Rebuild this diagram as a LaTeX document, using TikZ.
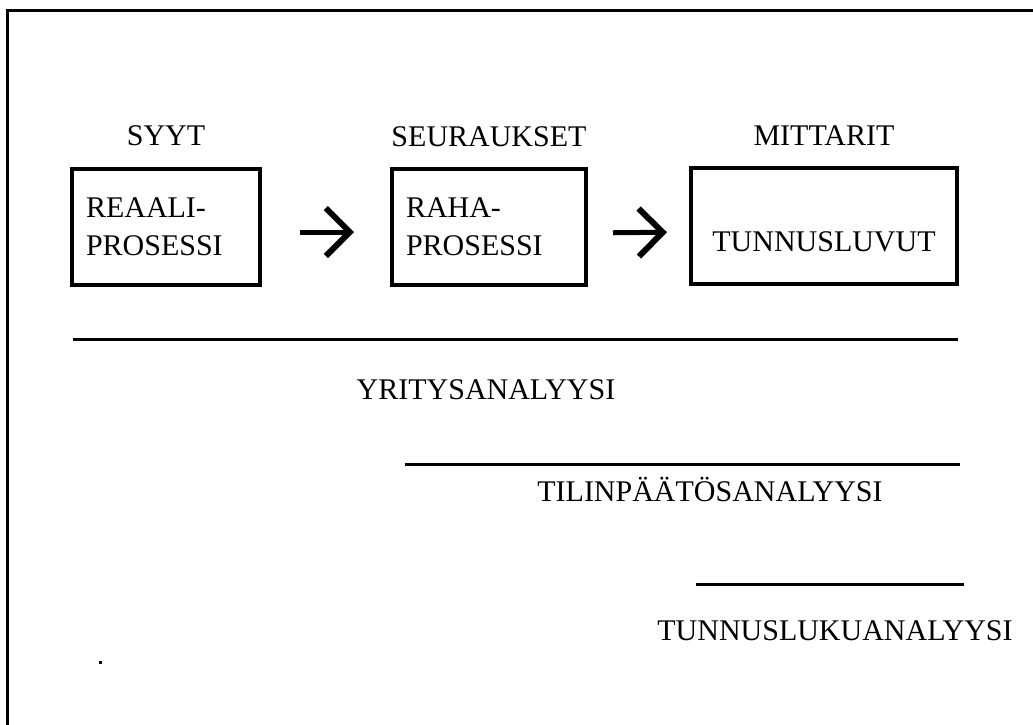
\documentclass[tikz,border=0pt]{standalone}
\usepackage{fontspec}
\setmainfont{Liberation Serif}
\usetikzlibrary{arrows.meta,positioning}
\tikzset{
 stagebox/.style={draw, line width=4pt, minimum height=116pt, inner xsep=14pt, font=\fontsize{30}{38}\selectfont},
 headlabel/.style={inner sep=0pt, font=\fontsize{30}{36}\selectfont},
 levellabel/.style={inner sep=0pt, anchor=base, font=\fontsize{30}{36}\selectfont},
 flow/.style={-{Straight Barb[length=24pt,width=48pt,line width=6pt]}, line width=5pt},
 levelline/.style={line width=3pt},
 framebar/.style={line width=3pt}
}

\begin{document}
\begin{tikzpicture}[x=1pt,y=-1pt]
\useasboundingbox (0,0) rectangle (1033,724);
\draw[framebar] (1040,10) -| (7.5,730);
% process chain
\node[stagebox,text width=160pt,align=left] (real) at (166,227) {REAALI-\\PROSESSI};
\node[stagebox,text width=166pt,align=left] (money) at (489,227) {RAHA-\\PROSESSI};
\node[stagebox,minimum width=266pt,align=center,text height=57pt,text depth=7pt] (ratios) at (824,226) {TUNNUSLUVUT};
\node[headlabel,above=21pt of real] (causes) {SYYT};
\node[headlabel,above=20pt of money] (effects) {SEURAUKSET};
\node[headlabel,above=20pt of ratios] (meters) {MITTARIT};
\draw[flow,shorten <=38pt,shorten >=36pt] ([yshift=-5pt]real.east) -- ([yshift=-5pt]money.west);
\draw[flow,shorten <=25pt,shorten >=22pt] ([yshift=-6pt]money.east) -- ([yshift=-6pt]ratios.west);
% analysis levels
\draw[levelline] (73,339) -- (958,339);
\node[levellabel] (firm) at (486,399) {YRITYSANALYYSI};
\draw[levelline] (405,464) -- (960,464);
\node[levellabel] (statement) at (710,501) {TILINPÄÄTÖSANALYYSI};
\draw[levelline] (696,584) -- (964,584);
\node[levellabel] (ratioan) at (835,640) {TUNNUSLUKUANALYYSI};
\fill (98.5,660.5) rectangle (101.5,663.5);
\end{tikzpicture}
\end{document}
